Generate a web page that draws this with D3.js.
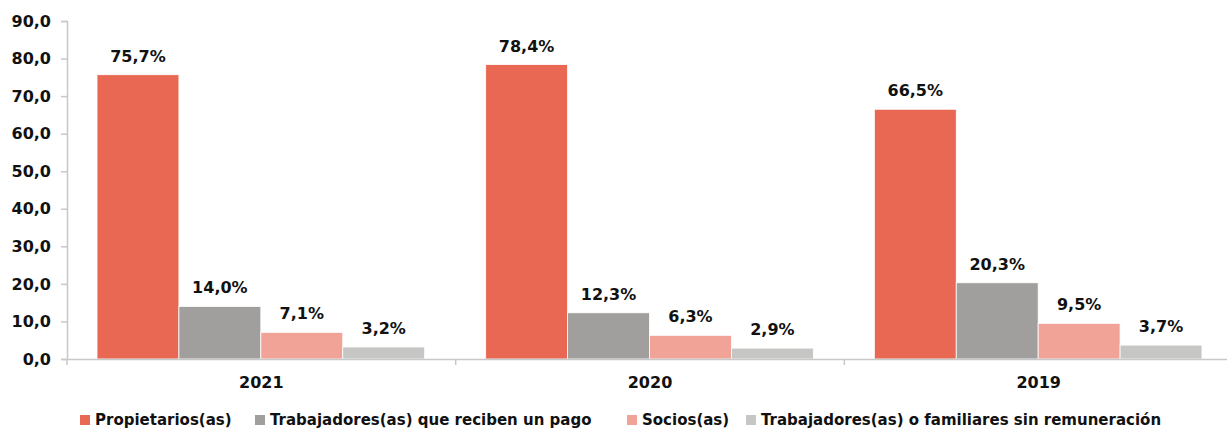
<!DOCTYPE html>
<html>
<head>
<meta charset="utf-8">
<script src="https://cdn.jsdelivr.net/npm/d3@7"></script>
<style>
  body { margin: 0; background: #fff; }
  text { font-family: "DejaVu Sans", sans-serif; font-weight: bold; fill: #111; }
</style>
</head>
<body>
<div id="chart"></div>
<script>
// data
var years = ["2021", "2020", "2019"];
var series = ["Propietarios(as)", "Trabajadores(as) que reciben un pago", "Socios(as)", "Trabajadores(as) o familiares sin remuneración"];
var propietarios = [75.7, 78.4, 66.5];
var trabajadores = [14.0, 12.3, 20.3];
var socios = [7.1, 6.3, 9.5];
var familiares = [3.2, 2.9, 3.7];
var yTicks = [0, 10, 20, 30, 40, 50, 60, 70, 80, 90];
var colors = ["#E96853", "#A09F9D", "#F2A397", "#C6C6C5"];

var allValues = [propietarios, trabajadores, socios, familiares];

var width = 1227, height = 429;
var margin = { left: 67, top: 21, right: -6, bottom: 70 };

var svg = d3.select("#chart").append("svg")
    .attr("width", width).attr("height", height);

var x0 = d3.scaleBand().domain(years)
    .range([margin.left, width - margin.right])
    .paddingInner(0).paddingOuter(0);

var x1 = d3.scaleBand().domain(series)
    .range([30, x0.bandwidth() - 31]);

var y = d3.scaleLinear().domain([0, 90])
    .range([height - margin.bottom, margin.top]);

var fmt = function (v) { return v.toFixed(1).replace(".", ","); };

// y axis
var yAxis = svg.append("g")
    .attr("transform", "translate(" + margin.left + ",0)")
    .call(d3.axisLeft(y).tickValues(yTicks).tickSize(6).tickPadding(10).tickFormat(fmt));
yAxis.select(".domain").attr("stroke", "#c8c8c8").attr("stroke-width", 1.5);
yAxis.selectAll(".tick line").attr("stroke", "#c8c8c8").attr("stroke-width", 1.5);
yAxis.selectAll("text").style("font-size", "16px").attr("fill", "#111");

// bars
years.forEach(function (yr, i) {
    var g = svg.append("g").attr("transform", "translate(" + x0(yr) + ",0)");
    series.forEach(function (s, j) {
        var v = allValues[j][i];
        g.append("rect")
            .attr("x", x1(s))
            .attr("y", y(v))
            .attr("width", x1.bandwidth())
            .attr("height", y(0) - y(v))
            .attr("fill", colors[j])
            .attr("stroke", "#fff")
            .attr("stroke-width", 0.8);
        g.append("text")
            .attr("x", x1(s) + x1.bandwidth() / 2)
            .attr("y", y(v) - 13)
            .attr("text-anchor", "middle")
            .style("font-size", "16px")
            .text(fmt(v) + "%");
    });
});

// x axis
var xAxis = svg.append("g")
    .attr("transform", "translate(0," + y(0) + ")")
    .call(d3.axisBottom(x0).tickSize(0).tickPadding(17.5));
xAxis.select(".domain").attr("stroke", "#c8c8c8").attr("stroke-width", 1.5);
xAxis.selectAll("text").style("font-size", "16px").attr("fill", "#111");
// category separators
years.concat(["end"]).forEach(function (yr, i) {
    var xx = i < years.length ? x0(yr) : x0(years[years.length - 1]) + x0.bandwidth();
    xAxis.append("line")
        .attr("x1", xx).attr("x2", xx)
        .attr("y1", 0).attr("y2", 6)
        .attr("stroke", "#c8c8c8").attr("stroke-width", 1.5);
});

// legend
var legendX = [80, 255, 627, 746];
var legend = svg.append("g");
series.forEach(function (s, j) {
    legend.append("rect")
        .attr("x", legendX[j]).attr("y", 415)
        .attr("width", 10).attr("height", 10)
        .attr("fill", colors[j]);
    legend.append("text")
        .attr("x", legendX[j] + 15).attr("y", 425)
        .style("font-size", "15px")
        .text(s);
});
</script>
</body>
</html>
